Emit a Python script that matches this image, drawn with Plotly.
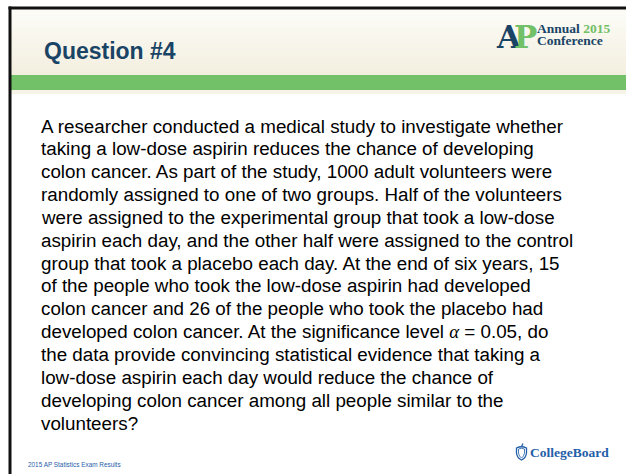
import plotly.graph_objects as go

W, H = 626, 474

title_text = "Question #4"
body_lines = [
    "A researcher conducted a medical study to investigate whether",
    "taking a low-dose aspirin reduces the chance of developing",
    "colon cancer. As part of the study, 1000 adult volunteers were",
    "randomly assigned to one of two groups. Half of the volunteers",
    "were assigned to the experimental group that took a low-dose",
    "aspirin each day, and the other half were assigned to the control",
    "group that took a placebo each day. At the end of six years, 15",
    "of the people who took the low-dose aspirin had developed",
    "colon cancer and 26 of the people who took the placebo had",
    "developed colon cancer. At the significance level <span style='font-family:Liberation Serif'><i>α</i></span> = 0.05, do",
    "the data provide convincing statistical evidence that taking a",
    "low-dose aspirin each day would reduce the chance of",
    "developing colon cancer among all people similar to the",
    "volunteers?",
]
footer_text = "2015 AP Statistics Exam Results"
logo_words = ["Annual", "2015", "Conference"]
brand_text = "CollegeBoard"

NAVY = "#1a4466"
GREEN = "#72c067"
BLUE = "#1f5ea8"

fig = go.Figure()
shapes = []
annotations = []

# header gradient
top = (252, 252, 247)
bot = (243, 239, 224)
y0, y1 = 9, 75
n = 22
for i in range(n):
    t = i / (n - 1)
    c = tuple(round(top[k] + (bot[k] - top[k]) * t) for k in range(3))
    ya = y0 + (y1 - y0) * i / n
    yb = y0 + (y1 - y0) * (i + 1) / n + 0.5
    shapes.append(dict(type="rect", x0=10, x1=W, y0=ya, y1=yb, line_width=0,
                       fillcolor="rgb(%d,%d,%d)" % c, layer="below"))
# green band
shapes.append(dict(type="rect", x0=10, x1=W, y0=75, y1=90, line_width=0, fillcolor=GREEN, layer="below"))
shapes.append(dict(type="rect", x0=10, x1=W, y0=90, y1=94, line_width=0, fillcolor="#f6f3e8", layer="below"))
# borders
shapes.append(dict(type="line", x0=8.5, x1=W, y0=8, y1=8, line=dict(color="#111111", width=3)))
shapes.append(dict(type="line", x0=10, x1=10, y0=6.5, y1=H, line=dict(color="#111111", width=3)))

# acorn icon
shapes.append(dict(type="path",
                   path="M 516.5 448 L 516.5 453 Q 517 458 521.5 460 Q 526 458 526.5 453 L 526.5 448 Q 521.5 445.5 516.5 448 Z",
                   line=dict(color=BLUE, width=1.3), fillcolor="rgba(0,0,0,0)"))
shapes.append(dict(type="path",
                   path="M 518.5 449 Q 521.5 447.5 524.5 449 L 524.5 453 Q 524 456.5 521.5 458 Q 519 456.5 518.5 453 Z",
                   line=dict(color=BLUE, width=0.8), fillcolor="rgba(0,0,0,0)"))
shapes.append(dict(type="line", x0=521.5, x1=523, y0=446.5, y1=443.5, line=dict(color=BLUE, width=1.2)))

annotations.append(dict(x=42, y=51, text="<b>%s</b>" % title_text, showarrow=False,
                        xanchor="left", yanchor="middle",
                        font=dict(family="Liberation Sans, Arial", size=23, color=NAVY)))

line_y0 = 126
line_dy = 22.85
for i, s in enumerate(body_lines):
    annotations.append(dict(x=39, y=line_y0 + i * line_dy, text=s, showarrow=False,
                            xanchor="left", yanchor="middle",
                            font=dict(family="Liberation Sans, Arial", size=18.8, color="#000000")))

# AP logo
annotations.append(dict(x=494, y=37, text="<b>A</b>", showarrow=False, xanchor="left", yanchor="middle",
                        font=dict(family="DejaVu Serif", size=31, color=NAVY)))
annotations.append(dict(x=512, y=37, text="<b>P</b>", showarrow=False, xanchor="left", yanchor="middle",
                        font=dict(family="DejaVu Serif", size=31, color=GREEN)))
annotations.append(dict(x=536, y=28, text="<b>%s</b> <b><span style='color:%s'>%s</span></b>" % (logo_words[0], GREEN, logo_words[1]),
                        showarrow=False, xanchor="left", yanchor="middle", borderpad=0,
                        font=dict(family="Liberation Serif", size=13.5, color=NAVY)))
annotations.append(dict(x=536, y=40.5, text="<b>%s</b>" % logo_words[2], showarrow=False,
                        xanchor="left", yanchor="middle", borderpad=0,
                        font=dict(family="Liberation Serif", size=13.5, color=NAVY)))

annotations.append(dict(x=528, y=452, text="<b>%s</b>" % brand_text, showarrow=False,
                        xanchor="left", yanchor="middle",
                        font=dict(family="Liberation Serif", size=13.5, color=BLUE)))
annotations.append(dict(x=26, y=464, text=footer_text, showarrow=False,
                        xanchor="left", yanchor="middle",
                        font=dict(family="Liberation Sans, Arial", size=6.4, color=BLUE)))

fig.update_layout(
    width=W, height=H,
    margin=dict(l=0, r=0, t=0, b=0),
    paper_bgcolor="white", plot_bgcolor="white",
    xaxis=dict(range=[0, W], visible=False, fixedrange=True),
    yaxis=dict(range=[H, 0], visible=False, fixedrange=True),
    shapes=shapes, annotations=annotations, showlegend=False,
)
fig.write_html("out.html", config={"displayModeBar": False},
               post_script="document.body.style.margin='0';document.body.style.overflow='hidden';")
